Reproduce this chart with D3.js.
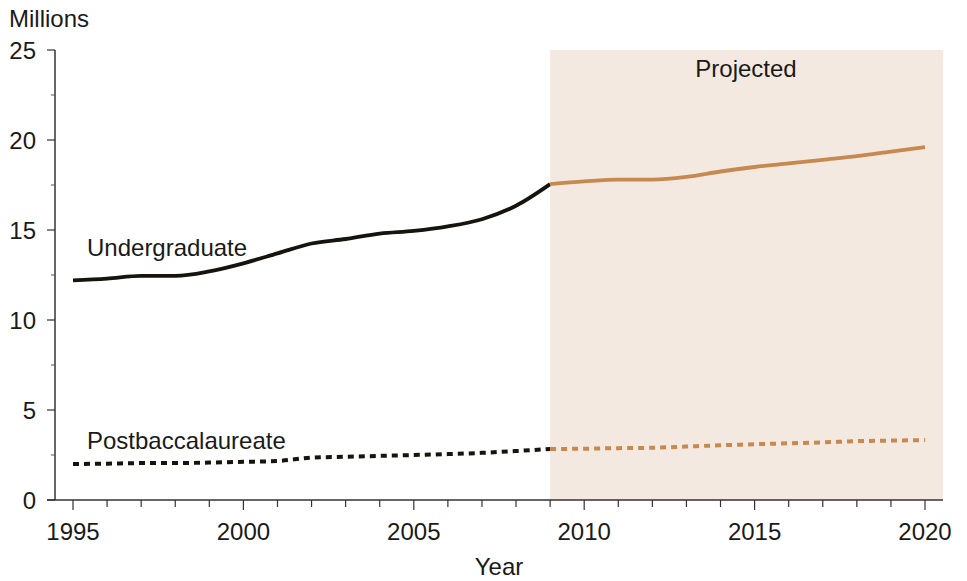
<!DOCTYPE html>
<html><head><meta charset="utf-8">
<script src="https://cdn.jsdelivr.net/npm/d3@7"></script>
<style>body{margin:0;background:#fff}svg text{font-family:"Liberation Sans",Arial,sans-serif;fill:#1a1a1a}</style>
</head><body><svg id="c" width="967" height="581"></svg>
<script>
const histYears = [1995,1996,1997,1998,1999,2000,2001,2002,2003,2004,2005,2006,2007,2008,2009];
const projYears = [2009,2010,2011,2012,2013,2014,2015,2016,2017,2018,2019,2020];
const undergradHist = [12.2,12.3,12.45,12.45,12.7,13.15,13.7,14.25,14.5,14.8,14.95,15.2,15.6,16.35,17.55];
const undergradProj = [17.55,17.7,17.8,17.8,17.95,18.25,18.5,18.7,18.9,19.1,19.35,19.6];
const postHist = [2.0,2.02,2.05,2.05,2.08,2.12,2.17,2.35,2.4,2.45,2.5,2.55,2.62,2.72,2.83];
const postProj = [2.83,2.85,2.88,2.9,2.97,3.04,3.1,3.15,3.2,3.27,3.3,3.33];
const yTicks = [0,5,10,15,20,25];
const xTicks = [1995,2000,2005,2010,2015,2020];

const FS = 24;
const svg = d3.select("#c");
const x = d3.scaleLinear().domain([1995,2020]).range([73,925]);
const y = d3.scaleLinear().domain([0,25]).range([500,50]);

// projected shading
svg.append("rect").attr("x",x(2009)).attr("y",y(25)).attr("width",x(2020.53)-x(2009)).attr("height",y(0)-y(25)).attr("fill","#f4e9e0");
svg.append("text").attr("x",746).attr("y",77).attr("text-anchor","middle").attr("font-size",FS).text("Projected");

// y axis
const ya = svg.append("g").attr("transform","translate(55,0)");
ya.append("line").attr("x1",0).attr("x2",0).attr("y1",y(25)).attr("y2",y(0)).attr("stroke","#333").attr("stroke-width",1.5);
ya.selectAll(".mj").data(yTicks).enter().append("line").attr("x1",-8).attr("x2",0).attr("y1",d=>y(d)).attr("y2",d=>y(d)).attr("stroke","#333").attr("stroke-width",1.2);
ya.selectAll(".mn").data(d3.range(2.5,25,5)).enter().append("line").attr("x1",-4).attr("x2",0).attr("y1",d=>y(d)).attr("y2",d=>y(d)).attr("stroke","#555").attr("stroke-width",1);
ya.selectAll("text").data(yTicks).enter().append("text").attr("x",-19).attr("y",d=>y(d)+8.5).attr("text-anchor","end").attr("font-size",FS).text(d=>d);
svg.append("text").attr("x",9).attr("y",27).attr("font-size",FS).text("Millions");

// x axis
const xa = svg.append("g");
xa.append("line").attr("x1",47).attr("x2",943).attr("y1",y(0)).attr("y2",y(0)).attr("stroke","#333").attr("stroke-width",1.5);
xa.selectAll(".t").data(d3.range(1995,2021)).enter().append("line").attr("x1",d=>x(d)).attr("x2",d=>x(d)).attr("y1",y(0)).attr("y2",d=>y(0)+(d%5===0?10:7)).attr("stroke","#333").attr("stroke-width",1.2);
xa.selectAll("text").data(xTicks).enter().append("text").attr("x",d=>x(d)).attr("y",540).attr("text-anchor","middle").attr("font-size",FS).text(d=>d);
svg.append("text").attr("x",499).attr("y",575).attr("text-anchor","middle").attr("font-size",FS).text("Year");

const line = d3.line().x(d=>x(d[0])).y(d=>y(d[1])).curve(d3.curveMonotoneX);
const black = "#17130e", tan = "#c68a50";
svg.append("path").datum(d3.zip(histYears,undergradHist)).attr("d",line).attr("fill","none").attr("stroke",black).attr("stroke-width",3.8);
svg.append("path").datum(d3.zip(projYears,undergradProj)).attr("d",line).attr("fill","none").attr("stroke",tan).attr("stroke-width",3.8);
svg.append("path").datum(d3.zip(histYears,postHist)).attr("d",line).attr("fill","none").attr("stroke",black).attr("stroke-width",4).attr("stroke-dasharray","6,5");
svg.append("path").datum(d3.zip(projYears,postProj)).attr("d",line).attr("fill","none").attr("stroke",tan).attr("stroke-width",4).attr("stroke-dasharray","6,5");

svg.append("text").attr("x",87).attr("y",256).attr("font-size",FS).text("Undergraduate");
svg.append("text").attr("x",87).attr("y",449).attr("font-size",FS).text("Postbaccalaureate");
</script></body></html>
